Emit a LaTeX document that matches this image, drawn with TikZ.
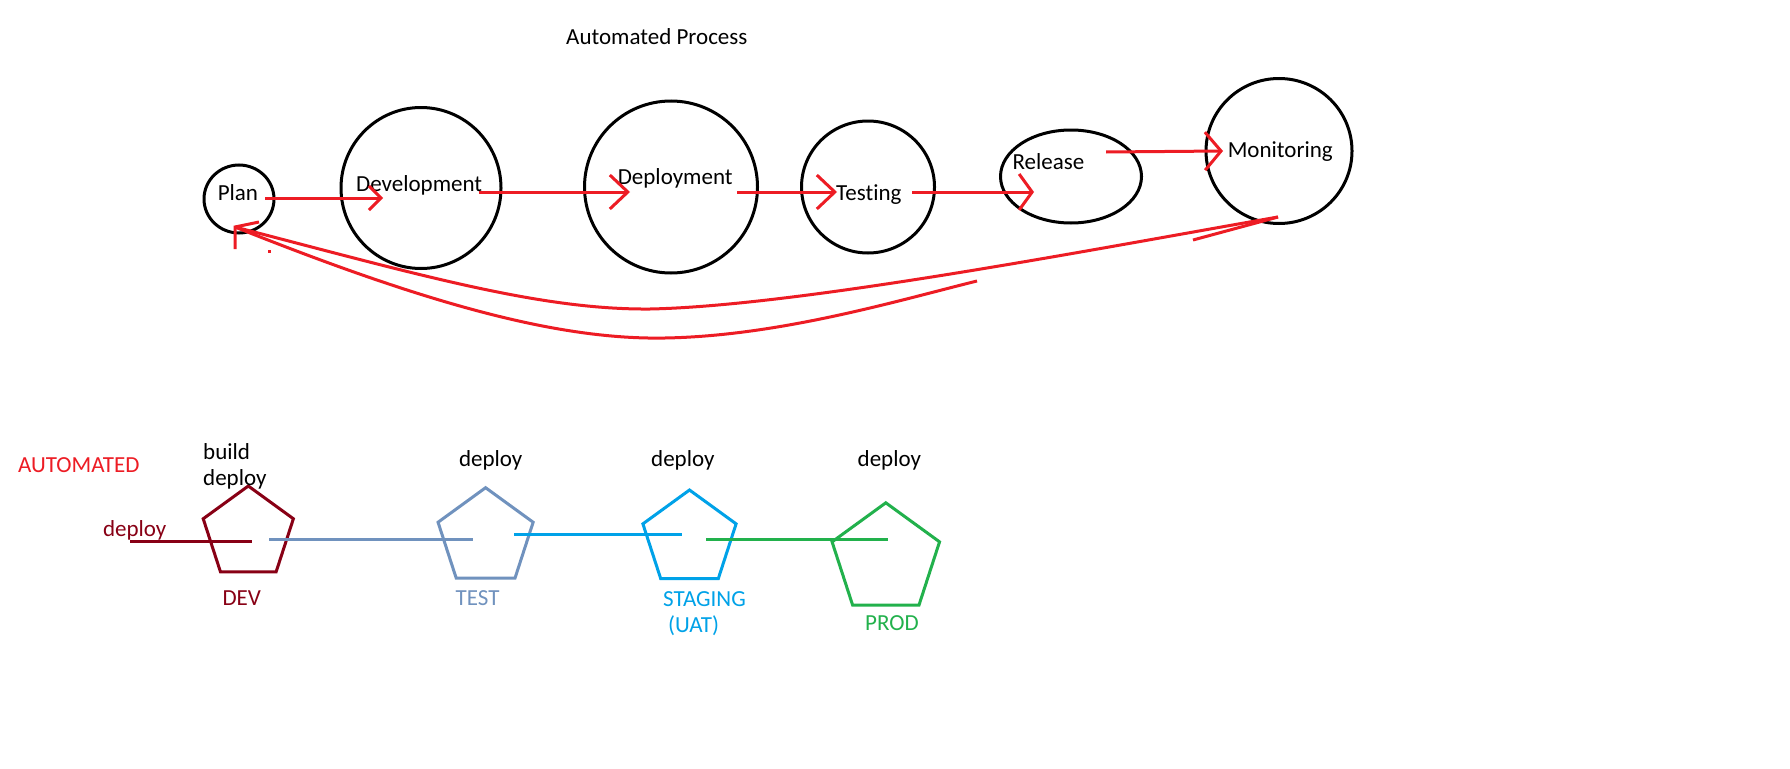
\documentclass[tikz,border=0pt]{standalone}
\usepackage{fontspec}
\setmainfont{Carlito}[Ligatures=NoCommon]
\usepackage{tikz}
\usetikzlibrary{shapes.geometric, arrows.meta, positioning, calc}
\definecolor{pred}{RGB}{237,28,36}
\definecolor{pdarkred}{RGB}{136,0,21}
\definecolor{pbluegray}{RGB}{112,146,190}
\definecolor{pturq}{RGB}{0,162,232}
\definecolor{pgreen}{RGB}{34,177,76}
\tikzset{
  stage/.style={ellipse,draw=black,line width=3pt,inner sep=0pt},
  env/.style={regular polygon,regular polygon sides=5,line width=3pt,inner sep=0pt},
  lbl/.style={anchor=base west,inner sep=0pt,font=\fontsize{23}{26}\selectfont,align=left},
  flow/.style={-{Straight Barb[length=18pt,width=34pt]},line width=3pt,color=pred},
  back/.style={line width=3pt,color=pred},
  track/.style={line width=3pt}
}

\begin{document}
\begin{tikzpicture}[x=1pt,y=-1pt]
  % canvas
  \fill[white] (0,0) rectangle (1790,768);
  \useasboundingbox (0,0) rectangle (1790,768);

  \node[lbl] (title) at (566,44.3) {Automated Process};

  % Stages
  \node[stage,minimum width=70pt,minimum height=68pt] (plan) at (239,199) {};
  \node[stage,minimum width=160pt,minimum height=161pt] (dev) at (421,188) {};
  \node[stage,minimum width=173pt,minimum height=172pt] (depl) at (671,187) {};
  \node[stage,minimum width=133pt,minimum height=132pt] (test) at (868,187) {};
  \node[stage,minimum width=141pt,minimum height=93pt] (rel) at (1071,176.5) {};
  \node[stage,minimum width=146pt,minimum height=145pt] (mon) at (1279,151) {};

  \node[lbl] (plantxt) at (217.6,200) {Plan};
  \node[lbl] (devtxt) at (356,191) {Development};
  \node[lbl] (depltxt) at (617.6,184) {Deployment};
  \node[lbl] (testtxt) at (836,200) {Testing};
  \node[lbl] (reltxt) at (1012.3,169.3) {Release};
  \node[lbl] (montxt) at (1227.6,157.3) {Monitoring};

  % forward arrows
  \draw[flow,-{Straight Barb[length=12pt,width=24pt]}] ([shift={(26,-1)}]plan.center) -- ([shift={(-38,10)}]dev.center);
  \draw[flow] ([shift={(58,4)}]dev.center) -- ([shift={(-41,5)}]depl.center);
  \draw[flow] ([shift={(66,5)}]depl.center) -- ([shift={(-31,5)}]test.center);
  \draw[flow,-{Straight Barb[length=13pt,width=36pt]}] ([shift={(44,5)}]test.center) -- ([shift={(-37,15.5)}]rel.center);
  \draw[flow,-{Straight Barb[length=16pt,width=38pt]}] ([shift={(35,-24.5)}]rel.center) -- ([shift={(-56,0)}]mon.center);

  % feedback loop
  \coordinate (plantip) at ([shift={(-4,28)}]plan.center);
  \coordinate (montip) at ([shift={(-1,66)}]mon.center);
  \coordinate (loopend) at (977,281);
  \draw[back] (montip) .. controls (1100,248) and (800,306) .. (650,309)
    .. controls (540,310) and (420,275) .. (plantip);
  \draw[back] (loopend) .. controls (900,300) and (780,336) .. (665,338)
    .. controls (560,340) and (430,305) .. (plantip);
  \draw[back] (plantip) ++(24,-5) -- (plantip) -- ++(0,22);
  \draw[back] (montip) -- ++(-85,23);
  \fill[pred] (267.5,249.5) rectangle ++(3,3);

  % Environments
  \node[lbl,text=pred] (auto) at (18,472.7) {AUTOMATED};
  \node[env,draw=pdarkred,minimum size=94.8pt] (devenv) at (248.3,533.4) {};
  \node[env,draw=pbluegray,minimum size=100pt] (testenv) at (485.6,537.7) {};
  \node[env,draw=pturq,minimum size=98pt] (stgenv) at (689.5,539) {};
  \node[env,draw=pgreen,minimum size=113pt] (prodenv) at (885.8,559.3) {};

  % tracks between environments
  \draw[track,pdarkred] ([shift={(-118,8)}]devenv.center) -- ([shift={(4,8)}]devenv.center);
  \draw[track,pbluegray] ([shift={(21,5.6)}]devenv.center) -- ([shift={(-12.3,1.3)}]testenv.center);
  \draw[track,pturq] ([shift={(28.4,-3.4)}]testenv.center) -- ([shift={(-7.8,-4.7)}]stgenv.center);
  \draw[track,pgreen] ([shift={(16.5,0)}]stgenv.center) -- ([shift={(1.9,-20.3)}]prodenv.center);

  \node[lbl] (devjob) at (203,485) {build\\deploy};
  \node[lbl,text=pdarkred] (devin) at (102.8,536) {deploy};
  \node[lbl,text=pdarkred] (devname) at (222.3,605) {DEV};
  \node[lbl] (testjob) at (458.8,466.7) {deploy};
  \node[lbl,text=pbluegray] (testname) at (455.5,605) {TEST};
  \node[lbl] (stgjob) at (651,466.7) {deploy};
  \node[lbl,text=pturq] (stgname) at (663,632) {STAGING\\\hspace*{5pt}(UAT)};
  \node[lbl] (prodjob) at (857.5,466.7) {deploy};
  \node[lbl,text=pgreen] (prodname) at (865,630) {PROD};
\end{tikzpicture}
\end{document}
